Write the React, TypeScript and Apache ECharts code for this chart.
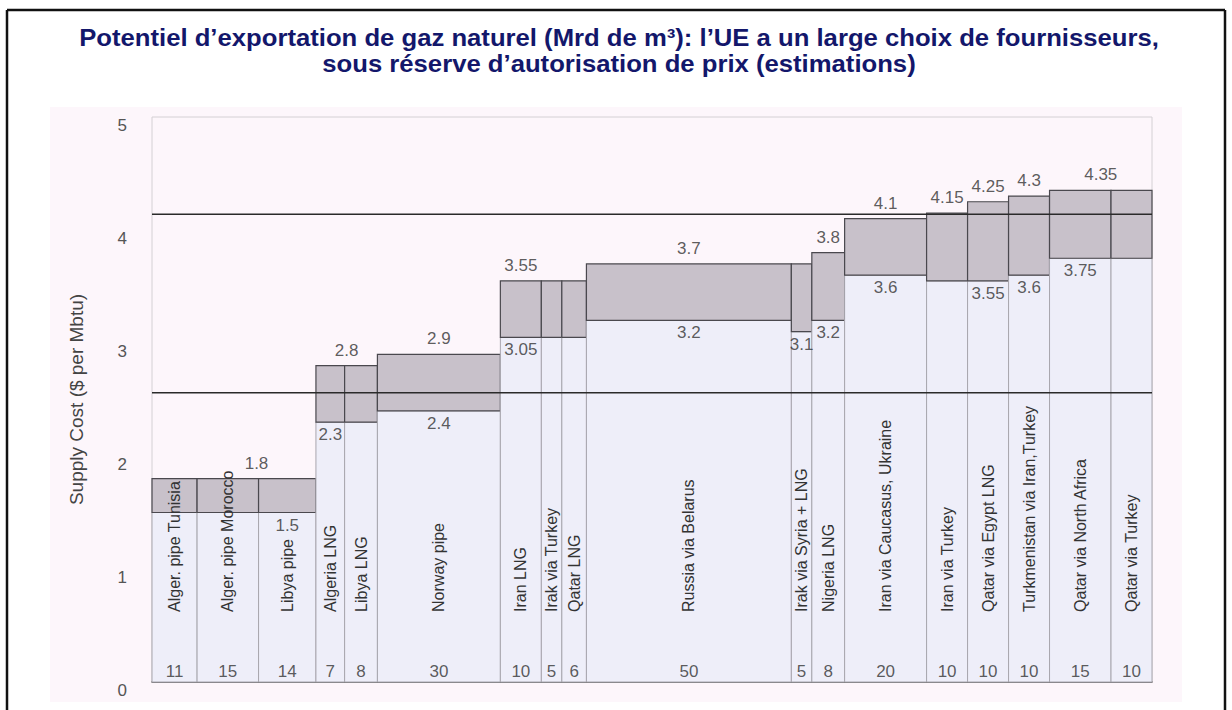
import React, { useEffect, useRef } from "react";
import * as echarts from "echarts";

const titleLines = [
  "Potentiel d’exportation de gaz naturel (Mrd de m³): l’UE a un large choix de fournisseurs,",
  "sous réserve d’autorisation de prix (estimations)",
];
const yAxisName = "Supply Cost ($ per Mbtu)";

const names = [
  "Alger. pipe Tunisia",
  "Alger. pipe Morocco",
  "Libya pipe",
  "Algeria LNG",
  "Libya LNG",
  "Norway pipe",
  "Iran LNG",
  "Irak via Turkey",
  "Qatar LNG",
  "Russia via Belarus",
  "Irak via Syria + LNG",
  "Nigeria LNG",
  "Iran via Caucasus, Ukraine",
  "Iran via Turkey",
  "Qatar via Egypt LNG",
  "Turkmenistan via Iran,Turkey",
  "Qatar via North Africa",
  "Qatar via Turkey",
];
const volumes = [11, 15, 14, 7, 8, 30, 10, 5, 6, 50, 5, 8, 20, 10, 10, 10, 15, 10];
const lows = [1.5, 1.5, 1.5, 2.3, 2.3, 2.4, 3.05, 3.05, 3.05, 3.2, 3.1, 3.2, 3.6, 3.55, 3.55, 3.6, 3.75, 3.75];
const highs = [1.8, 1.8, 1.8, 2.8, 2.8, 2.9, 3.55, 3.55, 3.55, 3.7, 3.7, 3.8, 4.1, 4.15, 4.25, 4.3, 4.35, 4.35];
// high-cost labels: [first column, last column] of the span they sit over
const highLabelSpans = [[1, 2], [3, 4], [5, 5], [6, 6], [9, 9], [11, 11], [12, 12], [13, 13], [14, 14], [15, 15], [16, 17]];
// low-cost labels: column index
const lowLabelCols = [2, 3, 5, 6, 9, 10, 11, 12, 14, 15, 16];
const referenceLines = [4.14, 2.56];
const yMin = 0;
const yMax = 5;
const yInterval = 1;

const FONT = "'Liberation Sans', Arial, sans-serif";

export default function App() {
  const ref = useRef<HTMLDivElement>(null);

  useEffect(() => {
    if (!ref.current) return;
    const chart = echarts.init(ref.current, undefined, { renderer: "svg" });

    const starts: number[] = [];
    let acc = 0;
    volumes.forEach((v) => {
      starts.push(acc);
      acc += v;
    });
    const total = acc;
    const centers = volumes.map((v, i) => starts[i] + v / 2);

    const barData = volumes.map((v, i) => [starts[i], starts[i] + v, lows[i], highs[i]]);

    const highLabelData = highLabelSpans.map(([a, b]) => ({
      value: [(starts[a] + starts[b] + volumes[b]) / 2, highs[b]],
      label: { formatter: String(highs[b]) },
    }));
    const lowLabelData = lowLabelCols.map((c) => ({
      value: [centers[c], lows[c]],
      label: { formatter: String(lows[c]) },
    }));
    const volumeLabelData = volumes.map((v, i) => ({
      value: [centers[i], 0],
      label: { formatter: String(v) },
    }));
    const nameData = names.map((n, i) => [centers[i], 0.62, n]);

    const option: any = {
      animation: false,
      backgroundColor: "#ffffff",
      graphic: [
        { type: "rect", shape: { x: 50, y: 107, width: 1132, height: 595 }, style: { fill: "#fdf6fb" }, z: -10 },
        { type: "line", shape: { x1: 7, y1: 10, x2: 1225, y2: 10 }, style: { stroke: "#111", lineWidth: 2.5 }, z: 10 },
        { type: "line", shape: { x1: 7, y1: 10, x2: 7, y2: 710 }, style: { stroke: "#111", lineWidth: 2.5 }, z: 10 },
        { type: "line", shape: { x1: 1225, y1: 10, x2: 1225, y2: 710 }, style: { stroke: "#111", lineWidth: 2.5 }, z: 10 },
        ...titleLines.map((t, i) => ({
          type: "text",
          x: 619,
          y: 38 + i * 26,
          scaleX: 1.07,
          z: 10,
          style: {
            text: t,
            align: "center",
            verticalAlign: "middle",
            fontFamily: FONT,
            fontSize: 24,
            fontWeight: "bold",
            fill: "#13176b",
          },
        })),
      ],
      grid: {
        left: 152,
        top: 117,
        width: 1000,
        height: 565,
        show: true,
        borderColor: "#d4d0d4",
        borderWidth: 1,
        backgroundColor: "transparent",
      },
      xAxis: {
        type: "value",
        min: 0,
        max: total,
        axisLine: { show: true, onZero: false, lineStyle: { color: "#444", width: 1.5 } },
        axisTick: { show: false },
        axisLabel: { show: false },
        splitLine: { show: false },
      },
      yAxis: {
        type: "value",
        min: yMin,
        max: yMax,
        interval: yInterval,
        name: yAxisName,
        nameLocation: "middle",
        nameGap: 66,
        nameRotate: 90,
        nameTextStyle: { fontFamily: FONT, fontSize: 19, color: "#444" },
        axisLine: { show: false },
        axisTick: { show: false },
        splitLine: { show: false },
        axisLabel: {
          fontFamily: FONT,
          fontSize: 17,
          color: "#555",
          margin: 25,
          verticalAlign: "top",
        },
      },
      series: [
        {
          type: "custom",
          z: 2,
          data: barData,
          renderItem: (params: any, api: any) => {
            const x0 = api.value(0);
            const x1 = api.value(1);
            const lo = api.value(2);
            const hi = api.value(3);
            const pBase = api.coord([x0, 0]);
            const pLo = api.coord([x1, lo]);
            const pHi = api.coord([x0, hi]);
            return {
              type: "group",
              children: [
                {
                  type: "rect",
                  shape: { x: pBase[0], y: pLo[1], width: pLo[0] - pBase[0], height: pBase[1] - pLo[1] },
                  style: { fill: "#eeeef9", stroke: "#a8a6ae", lineWidth: 1 },
                },
                {
                  type: "rect",
                  shape: { x: pBase[0], y: pHi[1], width: pLo[0] - pBase[0], height: pLo[1] - pHi[1] },
                  style: { fill: "#c8c1ca", stroke: "#4a484e", lineWidth: 1.2 },
                },
              ],
            };
          },
        },
        {
          type: "custom",
          z: 4,
          data: nameData,
          renderItem: (params: any, api: any) => {
            const p = api.coord([api.value(0), api.value(1)]);
            return {
              type: "text",
              x: p[0],
              y: p[1],
              rotation: Math.PI / 2,
              style: {
                text: nameData[params.dataIndex][2],
                x: 0,
                y: 0,
                align: "left",
                verticalAlign: "middle",
                fontFamily: FONT,
                fontSize: 16,
                fill: "#333",
              },
            };
          },
        },
        ...referenceLines.map((v) => ({
          type: "line",
          z: 5,
          symbol: "none",
          silent: true,
          data: [
            [0, v],
            [total, v],
          ],
          lineStyle: { color: "#2a2a2a", width: 1.5 },
        })),
        {
          type: "scatter",
          z: 6,
          symbolSize: 0,
          data: highLabelData,
          label: {
            show: true,
            position: "top",
            distance: 7,
            fontFamily: FONT,
            fontSize: 17,
            color: "#333",
          },
        },
        {
          type: "scatter",
          z: 6,
          symbolSize: 0,
          data: lowLabelData,
          label: {
            show: true,
            position: "bottom",
            distance: 4,
            fontFamily: FONT,
            fontSize: 17,
            color: "#333",
          },
        },
        {
          type: "scatter",
          z: 6,
          symbolSize: 0,
          data: volumeLabelData,
          label: {
            show: true,
            position: "top",
            distance: 2,
            fontFamily: FONT,
            fontSize: 17,
            color: "#333",
          },
        },
      ],
    };

    chart.setOption(option);
    return () => chart.dispose();
  }, []);

  return (
    <div
      ref={ref}
      style={{ position: "fixed", left: 0, top: 0, width: 1232, height: 710 }}
    />
  );
}
